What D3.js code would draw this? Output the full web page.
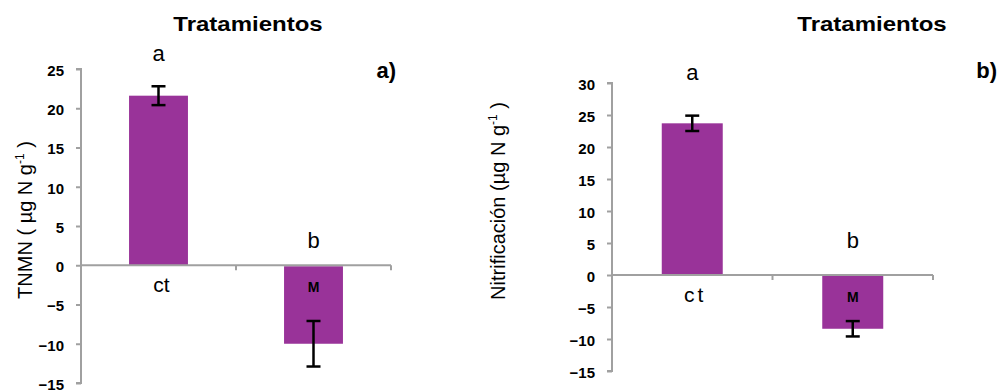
<!DOCTYPE html>
<html>
<head>
<meta charset="utf-8">
<script src="https://cdn.jsdelivr.net/npm/d3@7"></script>
<style>
  body { margin: 0; background: #fff; }
  svg { display: block; font-family: "Liberation Sans", Arial, sans-serif; }
</style>
</head>
<body>
<div id="chart"></div>
<script>
// data
var categories = ["ct", "M"];
var letters = ["a", "b"];

var tnmnValues = [21.6, -10.0];
var tnmnErrors = [1.2, 2.9];
var tnmnLetterY = [26, 2.2];
var tnmnTicks = [-15, -10, -5, 0, 5, 10, 15, 20, 25];

var nitValues = [23.7, -8.4];
var nitErrors = [1.2, 1.2];
var nitLetterY = [30.5, 4.2];
var nitTicks = [-15, -10, -5, 0, 5, 10, 15, 20, 25, 30];

var barColor = "#993399";
var axisColor = "#a0a0a0";

var svg = d3.select("#chart").append("svg")
  .attr("width", 997)
  .attr("height", 392);

var drawPanel = function(opts){
  var g = svg.append("g");

  var y = d3.scaleLinear()
    .domain(opts.domain)
    .range(opts.yRange);

  var x = d3.scaleBand()
    .domain(categories)
    .range(opts.xRange)
    .paddingInner(0.62)
    .paddingOuter(0.31);

  var step = x.step();

  // bars
  g.selectAll("rect.bar")
    .data(opts.values)
    .enter().append("rect")
    .attr("class", "bar")
    .attr("x", function(d, i){ return x(categories[i]); })
    .attr("y", function(d){ return d > 0 ? y(d) : y(0) + 1; })
    .attr("width", x.bandwidth())
    .attr("height", function(d){ return Math.abs(y(d) - y(0)) - (d > 0 ? 0 : 1); })
    .attr("fill", barColor);

  // y axis
  var yAxis = d3.axisLeft(y)
    .tickValues(opts.ticks)
    .tickSize(5)
    .tickPadding(12)
    .tickFormat(d3.format("d"));

  var ya = g.append("g")
    .attr("transform", "translate(" + opts.xRange[0] + ",0)")
    .call(yAxis);
  ya.select(".domain").attr("stroke", axisColor).attr("stroke-width", 2)
    .attr("d", "M-5," + y(opts.domain[1]) + "H0V" + y(opts.domain[0]) + "H-5");
  ya.selectAll(".tick line").attr("stroke", axisColor).attr("stroke-width", 2);
  ya.selectAll(".tick text")
    .attr("fill", "#000")
    .attr("font-size", "15px")
    .attr("font-weight", "bold")
    .attr("dy", "0.42em");

  // x axis line at zero with category ticks
  g.append("line")
    .attr("x1", opts.xRange[0]).attr("x2", opts.xRange[1])
    .attr("y1", y(0)).attr("y2", y(0))
    .attr("stroke", axisColor).attr("stroke-width", 2);

  g.selectAll("line.ctick")
    .data(categories)
    .enter().append("line")
    .attr("class", "ctick")
    .attr("x1", function(d){ return x(d) + x.bandwidth() / 2 + step / 2; })
    .attr("x2", function(d){ return x(d) + x.bandwidth() / 2 + step / 2; })
    .attr("y1", y(0))
    .attr("y2", y(0) + 5)
    .attr("stroke", axisColor).attr("stroke-width", 2);

  // error bars
  var eb = g.selectAll("g.err")
    .data(opts.values)
    .enter().append("g")
    .attr("class", "err")
    .attr("transform", function(d, i){ return "translate(" + (x(categories[i]) + x.bandwidth() / 2) + ",0)"; });

  eb.append("line")
    .attr("y1", function(d, i){ return y(d + opts.errors[i]); })
    .attr("y2", function(d, i){ return y(d - opts.errors[i]); })
    .attr("stroke", "#000").attr("stroke-width", 2.5);
  eb.append("line")
    .attr("x1", -7).attr("x2", 7)
    .attr("y1", function(d, i){ return y(d + opts.errors[i]); })
    .attr("y2", function(d, i){ return y(d + opts.errors[i]); })
    .attr("stroke", "#000").attr("stroke-width", 2.5);
  eb.append("line")
    .attr("x1", -7).attr("x2", 7)
    .attr("y1", function(d, i){ return y(d - opts.errors[i]); })
    .attr("y2", function(d, i){ return y(d - opts.errors[i]); })
    .attr("stroke", "#000").attr("stroke-width", 2.5);

  // significance letters
  g.selectAll("text.letter")
    .data(letters)
    .enter().append("text")
    .attr("class", "letter")
    .attr("x", function(d, i){ return x(categories[i]) + x.bandwidth() / 2; })
    .attr("y", function(d, i){ return y(opts.letterY[i]); })
    .attr("text-anchor", "middle")
    .attr("font-size", "22px")
    .text(function(d){ return d; });

  // category labels
  g.selectAll("text.cat")
    .data(categories)
    .enter().append("text")
    .attr("class", "cat")
    .attr("x", function(d){ return x(d) + x.bandwidth() / 2 + (d == "ct" ? 3 : 0); })
    .attr("y", y(0) + 27)
    .attr("text-anchor", "middle")
    .attr("font-size", function(d){ return d == "ct" ? "21px" : "14px"; })
    .attr("font-weight", function(d){ return d == "ct" ? "normal" : "bold"; })
    .attr("letter-spacing", function(d){ return d == "ct" ? opts.ctSpacing : 0; })
    .text(function(d){ return d; });

  // title
  g.append("text")
    .attr("x", opts.titleX)
    .attr("y", 31)
    .attr("text-anchor", "middle")
    .attr("font-size", "20px")
    .attr("font-weight", "bold")
    .attr("transform", "translate(" + opts.titleX + ",0) scale(1.2,1) translate(" + (-opts.titleX) + ",0)")
    .text("Tratamientos");

  // panel tag
  g.append("text")
    .attr("x", opts.tagX)
    .attr("y", 78)
    .attr("text-anchor", "end")
    .attr("font-size", "22px")
    .attr("font-weight", "bold")
    .text(opts.tag);

  // y label
  var yl = g.append("text")
    .attr("transform", "translate(" + opts.ylabX + "," + opts.ylabY + ") rotate(-90)")
    .attr("text-anchor", "middle")
    .attr("font-size", "20px");
  yl.append("tspan").text(opts.ylab);
  yl.append("tspan").attr("font-size", "12px").attr("dy", "-8").text("-1");
  yl.append("tspan").attr("dy", "8").text(opts.ylabEnd);
};

drawPanel({
  values: tnmnValues, errors: tnmnErrors, letterY: tnmnLetterY, ticks: tnmnTicks,
  domain: [-15, 25], yRange: [383, 69], xRange: [81, 391],
  titleX: 248, tag: "a)", tagX: 396,
  ylab: "TNMN ( \u00b5g N g", ylabEnd: " )", ylabX: 32, ylabY: 220,
  ctSpacing: "0px"
});

drawPanel({
  values: nitValues, errors: nitErrors, letterY: nitLetterY, ticks: nitTicks,
  domain: [-15, 30], yRange: [371, 83], xRange: [612, 933],
  titleX: 872, tag: "b)", tagX: 997,
  ylab: "Nitrificaci\u00f3n (\u00b5g N g", ylabEnd: " )", ylabX: 505, ylabY: 201,
  ctSpacing: "3px"
});
</script>
</body>
</html>
